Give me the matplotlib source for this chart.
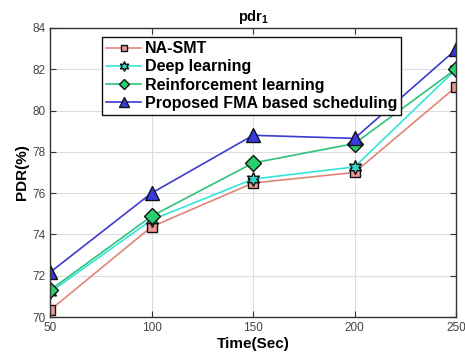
import matplotlib
matplotlib.use("Agg")
import matplotlib.pyplot as plt

plt.rcParams['font.family'] = ['Liberation Sans', 'DejaVu Sans']
plt.rcParams['mathtext.fontset'] = 'custom'
plt.rcParams['mathtext.bf'] = 'Liberation Sans:bold'
plt.rcParams['mathtext.rm'] = 'Liberation Sans'

time = [50, 100, 150, 200, 250]
na_smt = [70.33, 74.37, 76.49, 77.0, 81.15]
deep = [71.2, 74.7, 76.68, 77.27, 82.0]
rl = [71.3, 74.88, 77.46, 78.4, 82.02]
proposed = [72.16, 76.0, 78.8, 78.65, 82.96]
labels = ['NA-SMT', 'Deep learning', 'Reinforcement learning', 'Proposed FMA based scheduling']
xticks = [50, 100, 150, 200, 250]
yticks = [70, 72, 74, 76, 78, 80, 82, 84]

fig = plt.figure(figsize=(4.65, 3.58), dpi=100)
ax = fig.add_axes([0.1075, 0.1145, 0.8735, 0.8075])

ax.plot(time, na_smt, color='#e0857a', lw=1.2, marker='s', ms=7, mfc='#e89a90', mec='#111111', mew=1.0, label=labels[0])
ax.plot(time, deep, color='#35e6d8', lw=1.2, marker=(6, 1, 0), ms=10, mfc='#35d8c8', mec='#111111', mew=1.0, label=labels[1])
ax.plot(time, rl, color='#2fc27a', lw=1.2, marker='D', ms=8, mfc='#28d070', mec='#111111', mew=1.0, label=labels[2])
ax.plot(time, proposed, color='#3b3bd0', lw=1.2, marker='^', ms=10, mfc='#3a3ae0', mec='#111111', mew=1.0, label=labels[3])

ax.set_xlim(50, 250)
ax.set_ylim(70, 84)
ax.set_xticks(xticks)
ax.set_yticks(yticks)
ax.grid(True, color='#dddddd', lw=0.8)
ax.set_axisbelow(True)
ax.tick_params(direction='in', top=True, right=True, labelsize=8.5, colors='#333333', labelcolor='#444444', length=4)
for s in ax.spines.values():
    s.set_color('#333333')
    s.set_linewidth(1.0)

ax.set_title(r'pdr$_\mathbf{1}$', fontsize=10.5, fontweight='bold', pad=5)
ax.set_xlabel('Time(Sec)', fontsize=11, fontweight='bold', labelpad=2)
ax.set_ylabel('PDR(%)', fontsize=11, fontweight='bold', labelpad=2)

leg = ax.legend(loc='upper left', bbox_to_anchor=(0.128, 0.968), prop={'weight': 'bold', 'size': 11.5},
                frameon=True, fancybox=False, edgecolor='#111111', framealpha=1, markerscale=0.7,
                handlelength=2.2, handletextpad=0.25, labelspacing=0.2, borderpad=0.25, borderaxespad=0)
leg.get_frame().set_linewidth(1.0)

fig.savefig('out.png', dpi=100)
